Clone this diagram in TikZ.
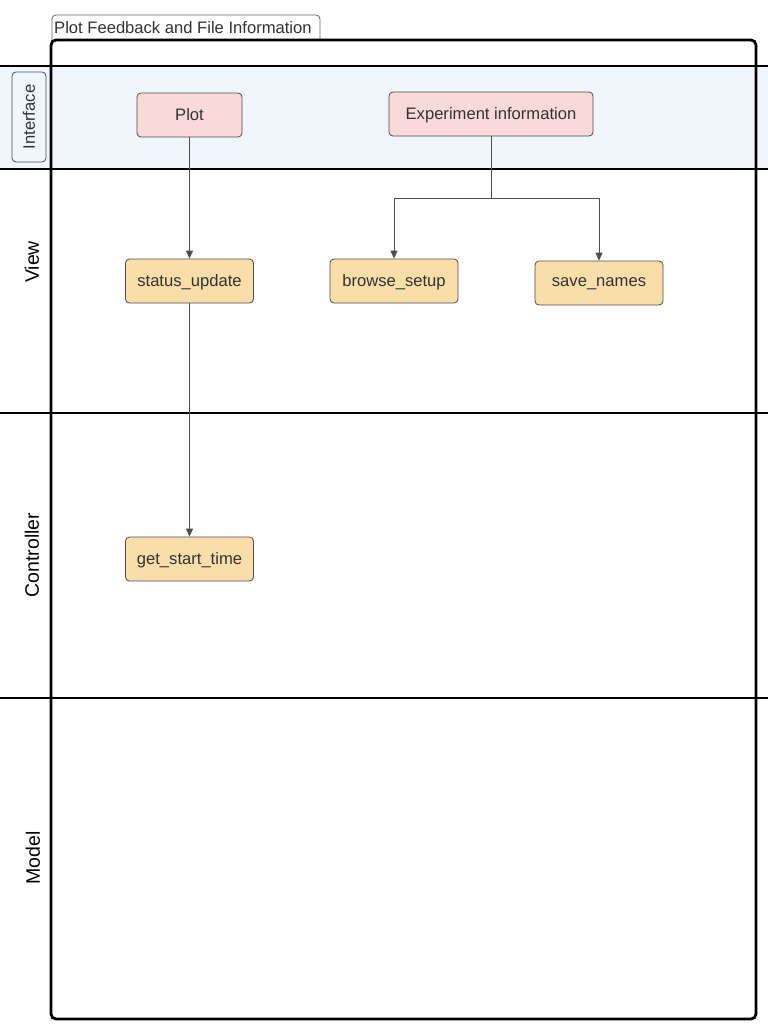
\documentclass[tikz,border=0pt]{standalone}
\usepackage{fontspec}
\setmainfont{Liberation Sans}
\usetikzlibrary{arrows.meta}
\definecolor{bandblue}{HTML}{F0F6FC}
\definecolor{uipink}{HTML}{FAD9D9}
\definecolor{fnorange}{HTML}{F9DEAA}
\definecolor{txtgray}{HTML}{333333}
\definecolor{boxgray}{HTML}{4D4D4D}
\begin{document}
\begin{tikzpicture}[x=1pt, y=-1pt,
	uibox/.style={fill=uipink, draw=boxgray, rounded corners=4pt, line width=0.8pt, minimum height=44pt, text=txtgray, text depth=2pt, font=\fontsize{16.6}{18}\selectfont},
	fnbox/.style={fill=fnorange, draw=boxgray, rounded corners=4pt, line width=0.8pt, minimum width=128pt, minimum height=44pt, text=txtgray, text depth=1pt, font=\fontsize{16.6}{18}\selectfont},
	lane/.style={line width=2.8pt},
	lanelabel/.style={rotate=90, font=\fontsize{19.5}{21}\selectfont},
	arr/.style={draw=boxgray, line width=1pt, -{Triangle[length=8pt, width=7pt]}}]
%			\draw[help lines] (0,0) grid (768,1036);
			\useasboundingbox (0,0) rectangle (768,1036);
			% interface band
			\fill[bandblue] (0,66) rectangle (768,169);
			% title tab and frame
			\draw[draw=gray!80!black, line width=0.8pt, rounded corners=4pt] (52,40) -- (52,15) -- (320,15) -- (320,40);
			\node[anchor=west, inner sep=0pt, text=txtgray, font=\fontsize{16.6}{18}\selectfont] (title) at (54,28) {Plot Feedback and File Information};
			\draw[lane] (0,66) -- (768,66);
			\draw[lane] (0,169) -- (768,169);
			\draw[lane] (0,413) -- (768,413);
			\draw[lane] (0,698) -- (768,698);
			\draw[lane, rounded corners=5pt] (51,40) rectangle (756,1019);
			% lane labels
			\node[draw=boxgray, rounded corners=4pt, line width=0.8pt, minimum width=90pt, minimum height=34pt, rotate=90, text=txtgray, font=\fontsize{16.6}{18}\selectfont] (interface) at (29,117) {Interface};
			\node[lanelabel] (view) at (32,262) {View};
			\node[lanelabel] (controller) at (32,555) {Controller};
			\node[lanelabel] (model) at (33,858) {Model};
			% nodes
			\node[uibox, minimum width=105pt] (plot) at (189.5,115) {Plot};
			\node[uibox, minimum width=204pt] (expinfo) at (491,114) {Experiment information};
			\node[fnbox] (status) at (189.5,281) {status\_update};
			\node[fnbox] (browse) at (394,281) {browse\_setup};
			\node[fnbox] (save) at (599,283) {save\_names};
			\node[fnbox] (starttime) at (189.5,559) {get\_start\_time};
			\coordinate (split) at (491,198);
			% connectors
			\draw[arr] (plot.south) -- (status.north);
			\draw[arr] (status.south) -- (starttime.north);
			\draw[arr] (expinfo.south) -- (split) -| (browse.north);
			\draw[arr] (split) -| (save.north);
		\end{tikzpicture}
\end{document}
